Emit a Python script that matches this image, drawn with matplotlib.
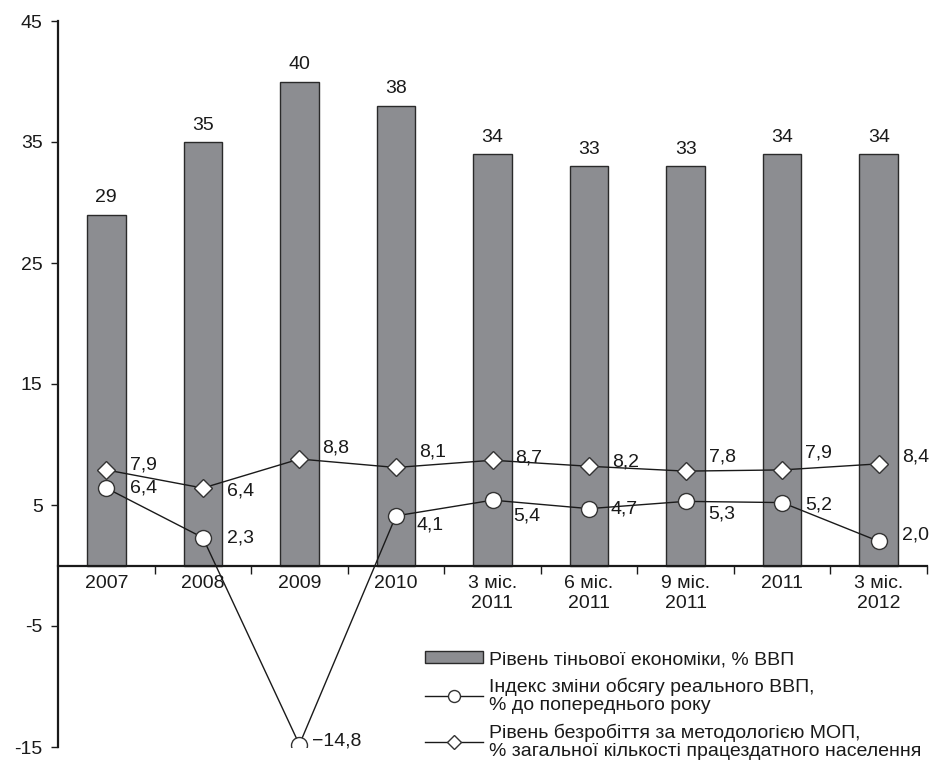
import matplotlib
matplotlib.use("Agg")
import matplotlib.pyplot as plt
import numpy as np

plt.rcParams['font.family'] = ['Liberation Sans', 'DejaVu Sans']
plt.rcParams['axes.unicode_minus'] = False

categories = ["2007", "2008", "2009", "2010", "3 міс.\n2011", "6 міс.\n2011",
              "9 міс.\n2011", "2011", "3 міс.\n2012"]
shadow_economy = [29, 35, 40, 38, 34, 33, 33, 34, 34]
gdp_index = [6.4, 2.3, -14.8, 4.1, 5.4, 4.7, 5.3, 5.2, 2.0]
unemployment = [7.9, 6.4, 8.8, 8.1, 8.7, 8.2, 7.8, 7.9, 8.4]

series_names = [
    "Рівень тіньової економіки, % ВВП",
    "Індекс зміни обсягу реального ВВП,\n% до попереднього року",
    "Рівень безробіття за методологією МОП,\n% загальної кількості працездатного населення",
]

# label offsets in pixels (dx, dy; dy positive = down)
gdp_offsets = [(24, 0), (24, 0), (13, -4), (21, 9), (21, 16), (21, 0), (23, 13), (23, 2), (23, -6)]
unemp_offsets = [(24, -5), (24, 3), (23, -11), (23, -15), (23, -2), (23, -4), (23, -14), (23, -17), (23, -7)]

fs = 14
bar_color = "#8c8d91"
ink = "#1a1a1a"

fig = plt.figure(figsize=(9.33, 7.70), dpi=100)
ax = fig.add_axes([58 / 933, 1 - 747 / 770, 869 / 933, 726 / 770])

x = np.arange(len(categories))
bars = ax.bar(x, shadow_economy, width=0.4, color=bar_color, edgecolor="#2a2a2a",
              linewidth=1.0, zorder=2, label=series_names[0])
for xi, v in zip(x, shadow_economy):
    ax.annotate(f"{v}", (xi, v), xytext=(0, 6), textcoords="offset points",
                ha="center", va="bottom", fontsize=fs, color=ink)

gdp_line, = ax.plot(x, gdp_index, color=ink, lw=1.0, marker="o", ms=11.5, mfc="white",
                    mec="#333333", mew=1.0, zorder=4, label=series_names[1])
unemp_line, = ax.plot(x, unemployment, color=ink, lw=1.0, marker="D", ms=9.5, mfc="white",
                      mec="#333333", mew=1.0, zorder=4, label=series_names[2])

for xi, v, (dx, dy) in zip(x, gdp_index, gdp_offsets):
    ax.annotate(f"{v:.1f}".replace(".", ",").replace("-", "\u2212"), (xi, v),
                xytext=(dx * 0.72, -dy * 0.72), textcoords="offset points",
                ha="left", va="center", fontsize=fs, color=ink, zorder=5)
for xi, v, (dx, dy) in zip(x, unemployment, unemp_offsets):
    ax.annotate(f"{v:.1f}".replace(".", ","), (xi, v),
                xytext=(dx * 0.72, -dy * 0.72), textcoords="offset points",
                ha="left", va="center", fontsize=fs, color=ink, zorder=5)

ax.set_xlim(-0.5, len(categories) - 0.5)
ax.set_ylim(-15, 45)
ax.set_yticks(np.arange(-15, 46, 10))
ax.set_xticks(x)
ax.set_xticklabels(categories, linespacing=1.05)
ax.set_xticks(np.arange(0.5, len(categories), 1), minor=True)
ax.tick_params(axis="x", which="major", length=0, pad=7, labelsize=fs, labelcolor=ink)
ax.tick_params(axis="x", which="minor", length=6, width=1, direction="out", color=ink)
ax.tick_params(axis="y", length=5, width=1, labelsize=fs, colors=ink, pad=6)

ax.spines["top"].set_visible(False)
ax.spines["right"].set_visible(False)
ax.spines["bottom"].set_position(("data", 0))
ax.spines["bottom"].set_linewidth(1.6)
ax.spines["left"].set_linewidth(1.6)
ax.spines["bottom"].set_color(ink)
ax.spines["left"].set_color(ink)

leg = fig.legend(handles=[bars, gdp_line, unemp_line], labels=series_names,
                 loc="upper left", bbox_to_anchor=(425 / 933, 1 - 651 / 770),
                 frameon=False, fontsize=fs, handlelength=3.0, handletextpad=0.3,
                 handleheight=0.6, markerscale=0.75, borderpad=0, labelspacing=0.48,
                 borderaxespad=0)
for t in leg.get_texts():
    t.set_color(ink)
    t.set_linespacing(1.12)

fig.savefig("out.png", dpi=100)
